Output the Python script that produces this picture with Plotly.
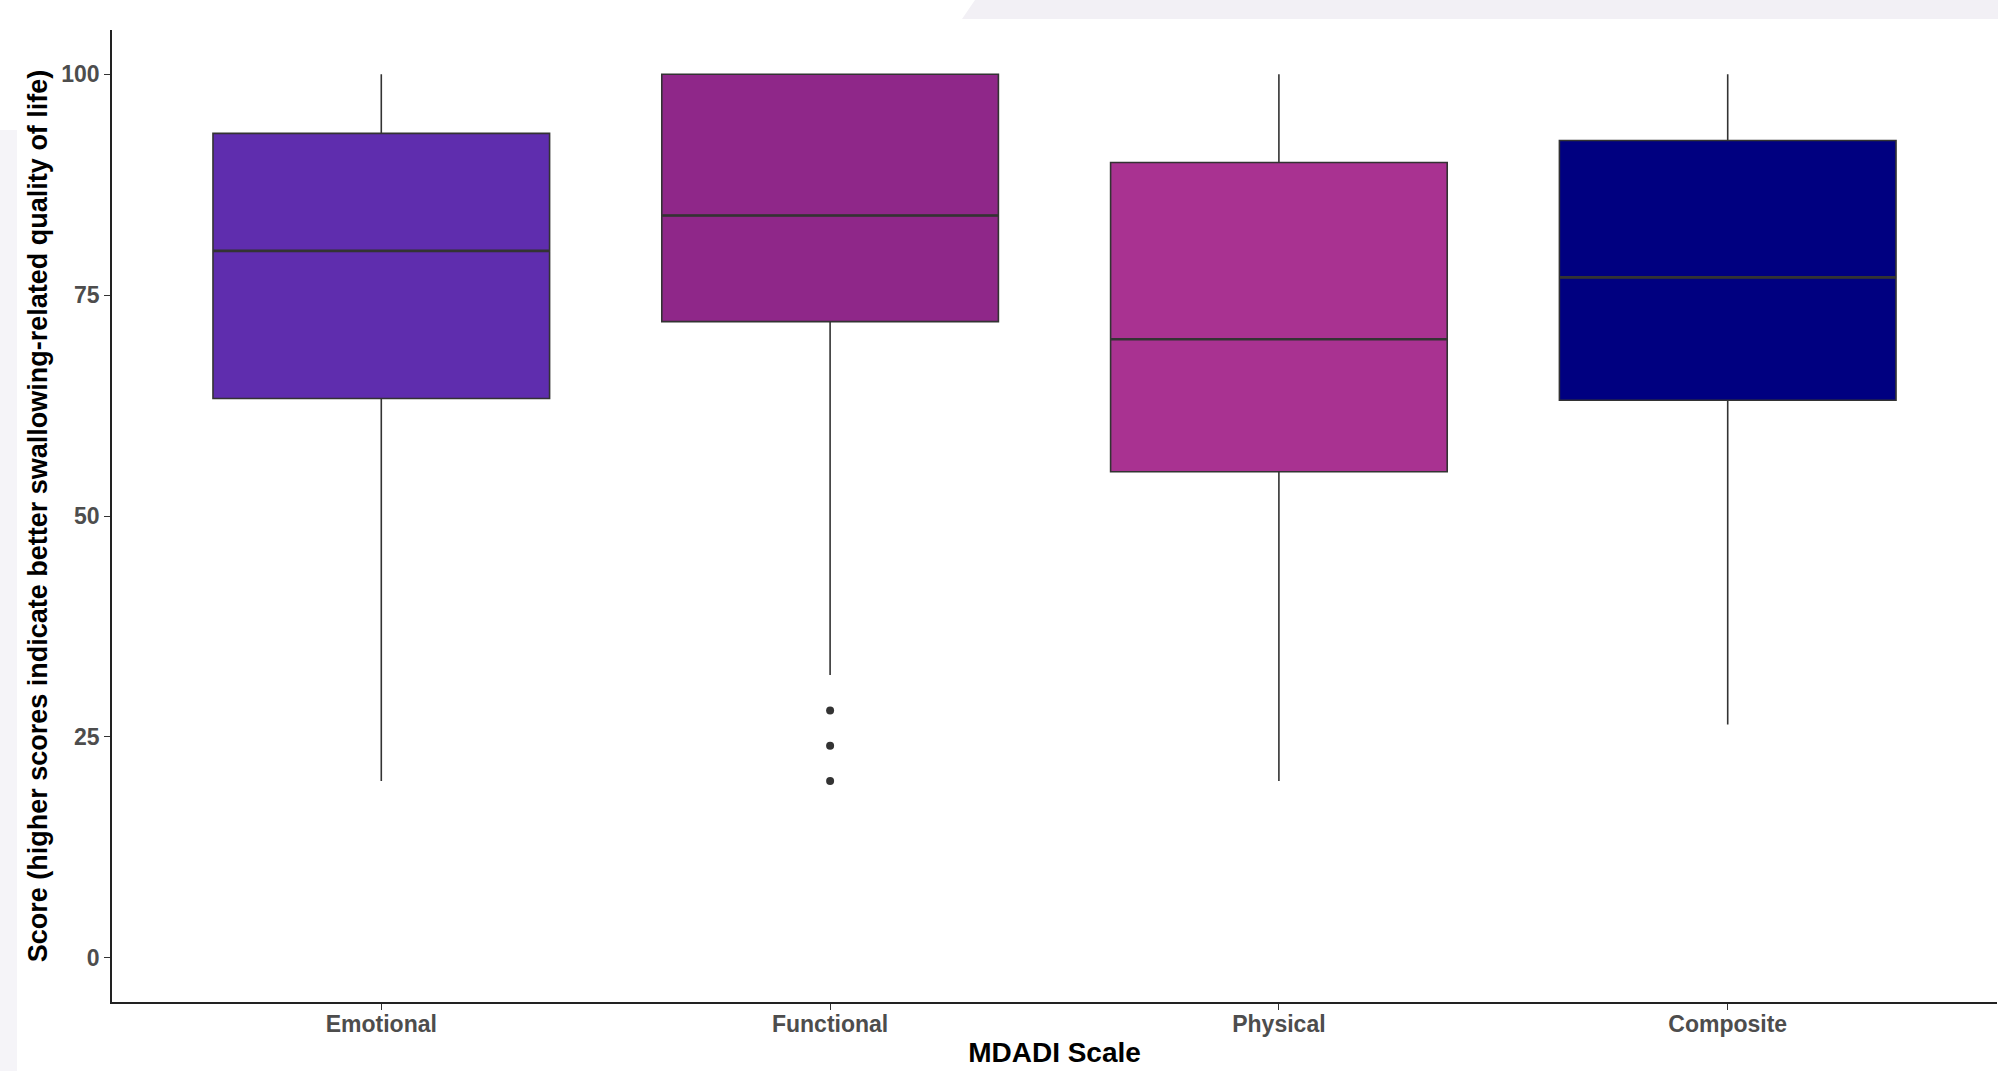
import plotly.graph_objects as go

# MDADI subscale summaries (five-number summaries per scale)
scales = ["Emotional", "Functional", "Physical", "Composite"]
positions = [1, 2, 3, 4]
q1_vals = [63.3, 72.0, 55.0, 63.1]
median_vals = [80.0, 84.0, 70.0, 77.0]
q3_vals = [93.3, 100.0, 90.0, 92.5]
lower_whisker = [20.0, 32.0, 20.0, 26.4]
upper_whisker = [100.0, 100.0, 100.0, 100.0]
fill_colors = ["#5F2DAE", "#8F2789", "#A93291", "#000080"]

# Outlying Functional scores
outlier_scale = [2, 2, 2]
outlier_vals = [28.0, 24.0, 20.0]

y_ticks = [0, 25, 50, 75, 100]

BOX_WIDTH = 0.75
W, H = 1998, 1071
M_L, M_R, M_T, M_B = 112, 1, 30, 69


def px_to_paper(px, py):
    """Convert page pixels to paper coordinates for decorative background shapes."""
    pw = W - M_L - M_R
    ph = H - M_T - M_B
    return (px - M_L) / pw, (H - M_B - py) / ph


fig = go.Figure()

for i, name in enumerate(scales):
    fig.add_trace(go.Box(
        x=[positions[i]],
        q1=[q1_vals[i]],
        median=[median_vals[i]],
        q3=[q3_vals[i]],
        lowerfence=[lower_whisker[i]],
        upperfence=[upper_whisker[i]],
        width=BOX_WIDTH,
        whiskerwidth=0,
        fillcolor=fill_colors[i],
        line=dict(color="#333333", width=1.6),
        boxpoints=False,
        name=name,
        showlegend=False,
        hoverinfo="skip",
    ))

# heavier median bars drawn over each box
med_x, med_y = [], []
for pos, med in zip(positions, median_vals):
    med_x += [pos - BOX_WIDTH / 2, pos + BOX_WIDTH / 2, None]
    med_y += [med, med, None]
fig.add_trace(go.Scatter(
    x=med_x, y=med_y, mode="lines",
    line=dict(color="#333333", width=2.6),
    showlegend=False, hoverinfo="skip",
))

fig.add_trace(go.Scatter(
    x=outlier_scale,
    y=outlier_vals,
    mode="markers",
    marker=dict(color="#333333", size=8),
    showlegend=False,
    hoverinfo="skip",
))

font_family = "Liberation Sans, Arial, sans-serif"

# faint page backdrop bands behind the figure
a = px_to_paper(975, 0)
b = px_to_paper(W, 0)
c = px_to_paper(W, 19)
d = px_to_paper(962, 19)
top_band = f"M {a[0]} {a[1]} L {b[0]} {b[1]} L {c[0]} {c[1]} L {d[0]} {d[1]} Z"
l0 = px_to_paper(0, 130)
l1 = px_to_paper(17, H)

fig.update_layout(
    width=W,
    height=H,
    margin=dict(l=M_L, r=M_R, t=M_T, b=M_B),
    paper_bgcolor="white",
    plot_bgcolor="rgba(0,0,0,0)",
    font=dict(family=font_family),
    shapes=[
        dict(type="path", xref="paper", yref="paper", path=top_band,
             fillcolor="#F2F0F5", line=dict(width=0), layer="below"),
        dict(type="rect", xref="paper", yref="paper",
             x0=l0[0], y0=l0[1], x1=l1[0], y1=l1[1],
             fillcolor="#F5F4F8", line=dict(width=0), layer="below"),
    ],
)

fig.update_xaxes(
    range=[0.4, 4.6],
    tickmode="array",
    tickvals=positions,
    ticktext=scales,
    ticks="outside",
    ticklen=6,
    tickwidth=1.2,
    tickcolor="#333333",
    ticklabelstandoff=-5,
    showline=True,
    linecolor="#222222",
    linewidth=1.6,
    showgrid=False,
    zeroline=False,
    tickfont=dict(family=font_family, size=23, color="#4D4D4D", weight="bold"),
    title=dict(text="<b>MDADI Scale</b>", font=dict(family=font_family, size=28, color="black"), standoff=6),
)

fig.update_yaxes(
    range=[-5, 105],
    tickmode="array",
    tickvals=y_ticks,
    ticktext=[str(v) for v in y_ticks],
    ticks="outside",
    ticklen=6,
    tickwidth=1.2,
    tickcolor="#333333",
    showline=True,
    linecolor="#222222",
    linewidth=1.6,
    showgrid=False,
    zeroline=False,
    tickfont=dict(family=font_family, size=23, color="#4D4D4D", weight="bold"),
    title=dict(text="<b>Score (higher scores indicate better swallowing-related quality of life)</b>",
               font=dict(family=font_family, size=27, color="black"), standoff=6),
)

fig.write_html("out.html")
